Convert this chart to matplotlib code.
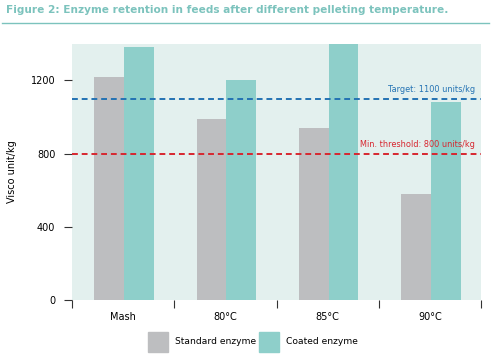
import numpy as np
import matplotlib
matplotlib.use('Agg')
import matplotlib.pyplot as plt

categories = ['Mash', '80°C', '85°C', '90°C']
standard = [1220, 990, 940, 580]
coated = [1385, 1200, 1400, 1085]
target = 1100
threshold = 800

grey = '#bdbec0'
teal = '#8ecfca'
blue = '#2372b3'
red = '#d7262f'
title_col = '#7cc3bd'

fig = plt.figure(figsize=(4.91, 3.57), dpi=100)
fig.patch.set_facecolor('white')

fig.text(0.012, 0.972, 'Figure 2: Enzyme retention in feeds after different pelleting temperature.',
         color=title_col, fontsize=7.6, fontweight='bold', va='center', ha='left')
fig.add_artist(plt.Line2D([0.004, 0.995], [0.936, 0.936], color=title_col, lw=1))

ax = fig.add_axes([0.1466, 0.16, 0.8334, 0.717])
ax.set_facecolor('#e3f0ee')
x = np.arange(len(categories))
w = 0.29
ax.bar(x - w / 2 + 0.01, standard, w, color=grey, zorder=2)
ax.bar(x + w / 2 + 0.01, coated, w, color=teal, zorder=2)

ax.axhline(target, color=blue, ls=(0, (3, 2)), lw=1.4, zorder=3)
ax.axhline(threshold, color=red, ls=(0, (3, 2)), lw=1.4, zorder=3)
ax.text(3.44, target + 25, 'Target: 1100 units/kg', color=blue, fontsize=5.9, ha='right', va='bottom')
ax.text(3.44, threshold + 25, 'Min. threshold: 800 units/kg', color=red, fontsize=5.9, ha='right', va='bottom')

ax.set_xlim(-0.5, 3.5)
ax.set_ylim(0, 1400)
for s in ax.spines.values():
    s.set_visible(False)

ax.set_yticks([0, 400, 800, 1200])
ax.tick_params(axis='y', direction='out', length=6, width=0.8, pad=6, labelsize=7, color='#333333')
ax.set_xticks([-0.5, 0.5, 1.5, 2.5, 3.5])
ax.set_xticklabels([])
ax.tick_params(axis='x', direction='out', length=6, width=0.8, color='#333333')
ax.set_xticks(x, minor=True)
ax.set_xticklabels(categories, minor=True)
ax.tick_params(axis='x', which='minor', length=0, pad=9, labelsize=7)
ax.set_ylabel('Visco unit/kg', fontsize=7, labelpad=10)

# legend
lax = fig.add_axes([0, 0, 1, 0.1])
lax.axis('off')
lax.set_xlim(0, 491)
lax.set_ylim(0, 35.7)
lax.add_patch(plt.Rectangle((148, 5), 20, 20, color=grey))
lax.text(175, 15, 'Standard enzyme', fontsize=6.6, va='center')
lax.add_patch(plt.Rectangle((259, 5), 20, 20, color=teal))
lax.text(286, 15, 'Coated enzyme', fontsize=6.6, va='center')

fig.savefig('out.png', dpi=100)
